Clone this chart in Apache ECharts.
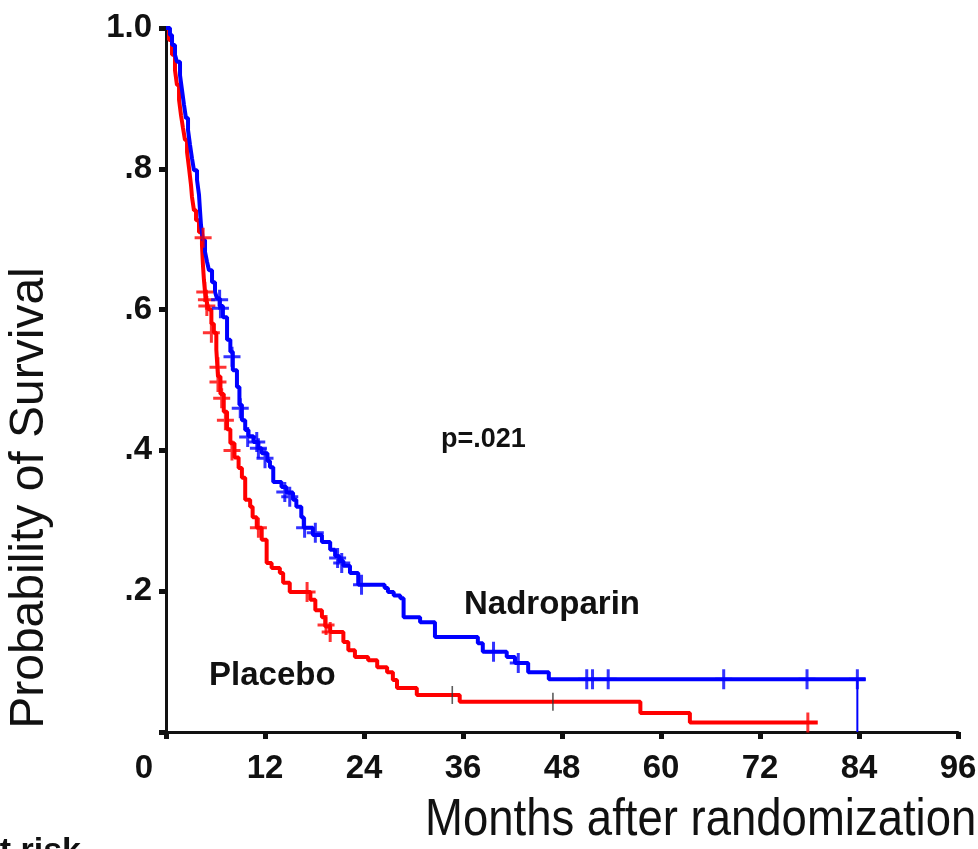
<!DOCTYPE html>
<html>
<head>
<meta charset="utf-8">
<script src="https://cdn.jsdelivr.net/npm/echarts@6/dist/echarts.min.js"></script>
<style>
  html, body { margin: 0; padding: 0; background: #ffffff; }
  #chart { width: 978px; height: 849px; }
</style>
</head>
<body>
<div id="chart"></div>
<script>
// Kaplan-Meier survival estimates: [month of event, survival after event]
var nadroparinSteps = [
  [0, 1.0], [0.48, 0.99], [0.73, 0.976], [1.09, 0.962], [1.33, 0.952], [1.7, 0.933],
  [1.94, 0.912], [2.18, 0.891], [2.42, 0.872], [2.67, 0.855], [2.91, 0.834], [3.15, 0.815],
  [3.39, 0.798], [3.76, 0.784], [4.0, 0.763], [4.12, 0.741], [4.24, 0.72], [4.48, 0.699],
  [4.73, 0.682], [4.97, 0.668], [5.21, 0.656], [5.58, 0.639], [5.94, 0.625], [6.18, 0.616],
  [6.5, 0.605], [6.9, 0.589], [7.4, 0.557], [7.8, 0.54], [8.1, 0.514],
  [8.6, 0.49], [8.9, 0.465], [9.2, 0.443], [9.6, 0.429], [10.0, 0.42], [10.6, 0.412],
  [11.2, 0.403], [11.6, 0.396], [12.3, 0.385], [12.6, 0.376], [13.0, 0.355], [14.0, 0.348],
  [14.6, 0.34], [15.4, 0.33], [15.8, 0.32], [16.4, 0.305], [16.7, 0.29], [17.8, 0.28],
  [18.9, 0.27], [19.9, 0.259], [20.5, 0.25], [21.0, 0.243], [21.5, 0.236], [22.3, 0.226],
  [23.3, 0.209], [26.5, 0.2045], [26.9, 0.199], [27.6, 0.194], [28.4, 0.19], [28.8, 0.163],
  [30.8, 0.156], [32.6, 0.135], [37.8, 0.126], [38.4, 0.114], [41.3, 0.1065], [42.3, 0.098],
  [43.9, 0.085], [46.4, 0.075], [84.8, 0.075]
];
var placeboSteps = [
  [0, 1.0], [0.36, 0.983], [0.73, 0.962], [1.09, 0.94], [1.33, 0.919], [1.58, 0.898],
  [1.82, 0.876], [2.06, 0.858], [2.3, 0.841], [2.55, 0.824], [2.79, 0.801], [3.03, 0.777],
  [3.15, 0.76], [3.39, 0.741], [3.64, 0.727], [4.0, 0.71], [4.36, 0.692], [4.48, 0.663],
  [4.6, 0.642], [4.73, 0.625], [4.97, 0.609], [5.2, 0.6], [5.5, 0.58],
  [5.8, 0.567], [6.1, 0.543], [6.3, 0.505], [6.6, 0.48], [7.0, 0.455], [7.4, 0.43],
  [7.8, 0.41], [8.3, 0.39], [8.8, 0.375], [9.2, 0.361], [9.6, 0.33], [10.2, 0.32],
  [10.5, 0.305], [11.0, 0.29], [11.6, 0.273], [12.2, 0.24], [12.8, 0.233], [13.8, 0.226],
  [14.2, 0.212], [15.0, 0.199], [17.5, 0.188], [18.1, 0.173], [18.9, 0.163], [19.3, 0.15],
  [19.9, 0.142], [21.5, 0.128], [22.1, 0.116], [22.9, 0.1065], [24.5, 0.102], [25.6, 0.092],
  [26.8, 0.085], [27.5, 0.074], [28.0, 0.0625], [30.4, 0.0526], [35.6, 0.043], [57.5, 0.027],
  [63.5, 0.0135], [79.0, 0.0135]
];

// Censored observations (drawn as + marks on the curves)
var nadroparinCensored = [
  [6.5, 0.614], [6.6, 0.602], [8.0, 0.533], [9.0, 0.46], [9.9, 0.419], [11.0, 0.412],
  [11.2, 0.403], [12.0, 0.389], [14.4, 0.341], [15.0, 0.334], [16.8, 0.29], [18.1, 0.283],
  [20.8, 0.247], [21.3, 0.24], [23.7, 0.209], [39.7, 0.114], [42.7, 0.098],
  [51.0, 0.075], [51.7, 0.075], [53.6, 0.075], [67.6, 0.075], [77.7, 0.075], [83.8, 0.075]
];
var placeboCensored = [
  [4.5, 0.702], [4.7, 0.625], [4.9, 0.614], [4.95, 0.605], [5.5, 0.567], [6.3, 0.518],
  [6.3, 0.497], [6.75, 0.474], [7.2, 0.443], [8.0, 0.4], [11.2, 0.29], [17.1, 0.199],
  [19.4, 0.152], [19.9, 0.142], [77.8, 0.0135]
];
var placeboThinMarks = [[34.7, 0.0526], [46.9, 0.043]];
var nadroparinLastDrop = [[83.8, 0.075], [83.8, 0]];

// Axis ticks
var monthTicks = [0, 12, 24, 36, 48, 60, 72, 84, 96];
var survivalTicks = [0, 0.2, 0.4, 0.6, 0.8, 1.0];

var RED = '#ff0000';
var BLUE = '#0000ff';
var FONT = "'Liberation Sans', Arial, Helvetica, sans-serif";
var PLUS = 'path://M7,0H10V8.5H17V11.5H10V20H7V11.5H0V8.5H7Z';

var chart = echarts.init(document.getElementById('chart'), null, { renderer: 'canvas' });

chart.setOption({
  animation: false,
  backgroundColor: '#ffffff',
  grid: { left: 166, right: 20, top: 28, bottom: 117, containLabel: false, outerBoundsMode: 'none' },
  xAxis: {
    type: 'value',
    min: monthTicks[0],
    max: monthTicks[monthTicks.length - 1],
    interval: 12,
    splitLine: { show: false },
    axisLine: { show: true, onZero: false, lineStyle: { color: '#111', width: 3 } },
    axisTick: { show: true, length: 7, lineStyle: { color: '#111', width: 5 } },
    axisLabel: {
      margin: 20,
      color: '#111',
      fontFamily: FONT,
      fontWeight: 'bold',
      fontSize: 33,
      formatter: function (v) { return v === 0 ? '{z|0}' : String(v); },
      rich: {
        z: { padding: [0, 44, 0, 0], color: '#111', fontFamily: FONT, fontWeight: 'bold', fontSize: 33 }
      }
    }
  },
  yAxis: {
    type: 'value',
    min: survivalTicks[0],
    max: survivalTicks[survivalTicks.length - 1],
    interval: 0.2,
    splitLine: { show: false },
    axisLine: { show: true, onZero: false, lineStyle: { color: '#111', width: 3 } },
    axisTick: { show: true, length: 7, lineStyle: { color: '#111', width: 5 } },
    axisLabel: {
      margin: 14,
      color: '#111',
      fontFamily: FONT,
      fontWeight: 'bold',
      fontSize: 33,
      formatter: function (v) {
        if (v === 0) return '';
        if (Math.abs(v - 1) < 1e-9) return '1.0';
        return v.toFixed(1).replace(/^0/, '');
      }
    }
  },
  series: [
    {
      name: 'Placebo', type: 'line', step: 'end', data: placeboSteps,
      showSymbol: false, lineStyle: { color: RED, width: 4 }, z: 2
    },
    {
      name: 'Nadroparin', type: 'line', step: 'end', data: nadroparinSteps,
      showSymbol: false, lineStyle: { color: BLUE, width: 4 }, z: 3
    },
    {
      name: 'Nadroparin drop', type: 'line', data: nadroparinLastDrop,
      showSymbol: false, lineStyle: { color: BLUE, width: 2 }, z: 3
    },
    {
      name: 'Placebo censored', type: 'scatter', data: placeboCensored,
      symbol: PLUS, symbolSize: [17, 20], itemStyle: { color: RED }, z: 4
    },
    {
      name: 'Nadroparin censored', type: 'scatter', data: nadroparinCensored,
      symbol: PLUS, symbolSize: [17, 20], itemStyle: { color: BLUE }, z: 5
    },
    {
      name: 'Placebo censored (late)', type: 'scatter', data: placeboThinMarks,
      symbol: 'rect', symbolSize: [1.6, 18], itemStyle: { color: '#333' }, z: 5
    }
  ],
  graphic: [
    {
      type: 'text', x: 30, y: 498, rotation: Math.PI / 2,
      style: {
        text: 'Probability of Survival', fill: '#111',
        fontFamily: FONT, fontSize: 48, fontWeight: 'normal',
        align: 'center', verticalAlign: 'middle', textAlign: 'center', textVerticalAlign: 'middle'
      }
    },
    {
      type: 'text', x: 425, y: 821, scaleX: 0.875,
      style: {
        text: 'Months after randomization', fill: '#111',
        fontFamily: FONT, fontSize: 52, fontWeight: 'normal',
        align: 'left', verticalAlign: 'middle', textAlign: 'left', textVerticalAlign: 'middle'
      }
    },
    {
      type: 'text', x: 441, y: 440,
      style: {
        text: 'p=.021', fill: '#111', fontFamily: FONT, fontSize: 27, fontWeight: 'bold',
        align: 'left', verticalAlign: 'middle', textAlign: 'left', textVerticalAlign: 'middle'
      }
    },
    {
      type: 'text', x: 464, y: 605,
      style: {
        text: 'Nadroparin', fill: '#111', fontFamily: FONT, fontSize: 33, fontWeight: 'bold',
        align: 'left', verticalAlign: 'middle', textAlign: 'left', textVerticalAlign: 'middle'
      }
    },
    {
      type: 'text', x: 209, y: 676,
      style: {
        text: 'Placebo', fill: '#111', fontFamily: FONT, fontSize: 33, fontWeight: 'bold',
        align: 'left', verticalAlign: 'middle', textAlign: 'left', textVerticalAlign: 'middle'
      }
    },
    {
      type: 'text', x: 81, y: 852,
      style: {
        text: 'at risk', fill: '#111', fontFamily: FONT, fontSize: 34, fontWeight: 'bold',
        align: 'right', verticalAlign: 'middle', textAlign: 'right', textVerticalAlign: 'middle'
      }
    }
  ]
});
</script>
</body>
</html>
